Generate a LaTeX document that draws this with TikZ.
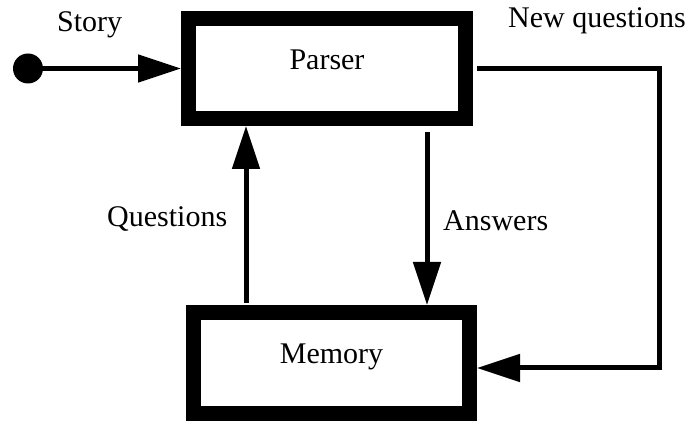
\documentclass[tikz,border=0pt]{standalone}
\usepackage{fontspec}
\setmainfont{Liberation Serif}
\usetikzlibrary{arrows.meta}

\begin{document}
\begin{tikzpicture}[x=1pt, y=1pt,
  module/.style={draw, line width=15pt, minimum width=277pt, minimum height=100pt,
    text depth=18pt, inner sep=0pt},
  flow/.style={line width=5pt, -{Triangle[length=43pt, width=27pt]}},
  lbl/.style={anchor=base west, inner sep=0pt},
  font=\fontsize{30}{36}\selectfont]
  \useasboundingbox (0,0) rectangle (691,422);
  % the two modules
  \node[module] (parser) at (327,353.5) {Parser};
  \node[module, minimum width=276pt, minimum height=101pt] (memory) at (331.5,59) {Memory};
  % input
  \node[circle, fill, minimum size=30pt, inner sep=0pt] (src) at (28,353.5) {};
  \draw[flow] (src) -- (parser.west);
  % between the modules
  \draw[flow, shorten <=2pt] ([xshift=-85.5pt]memory.north) -- ([xshift=-81pt]parser.south);
  \draw[flow, shorten <=6pt] ([xshift=100pt]parser.south) -- ([xshift=95.5pt]memory.north);
  % loop back round the right
  \coordinate (turn) at (659,54);
  \draw[flow, shorten <=4pt] (parser.east) -| (turn) -- (memory.east |- turn);
  % labels
  \node[lbl] (lstory) at (57,390) {Story};
  \node[lbl] (lnew) at (508,394) {New questions};
  \node[lbl] (lquest) at (107,195) {Questions};
  \node[lbl] (lans) at (443,191) {Answers};
\end{tikzpicture}
\end{document}
